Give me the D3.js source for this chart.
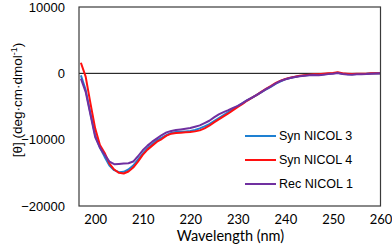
<!DOCTYPE html>
<html>
<head>
<meta charset="utf-8">
<script src="https://cdn.jsdelivr.net/npm/d3@7"></script>
<style>
  body { margin: 0; background: #fff; }
  svg { display: block; }
</style>
</head>
<body>
<div id="chart"></div>
<script>
// wavelengths (nm), 1 nm steps
var wavelengths = d3.range(197, 261);

// mean residue ellipticity
var synNicol3 = [-300, -2500, -6000, -9300, -11200, -12600, -13900, -14600, -14900, -14850,
  -14500, -13900, -13000, -12100, -11300, -10700, -10100, -9700, -9300, -9000,
  -8850, -8800, -8750, -8700, -8550, -8300, -8000, -7650, -7200, -6750,
  -6300, -5850, -5400, -4950, -4500, -4050, -3650, -3250, -2850, -2400,
  -2000, -1550, -1200, -900, -700, -550, -420, -330, -260, -200,
  -220, -120, -60, 0, 80, -50, -120, -150, -100, -100,
  -80, -30, 0, -20];
var synNicol4 = [1600, -500, -4500, -8300, -10800, -12000, -13600, -14500, -15000, -15100,
  -14800, -14200, -13300, -12300, -11500, -10900, -10300, -9900, -9400, -9100,
  -9000, -8950, -8900, -8850, -8750, -8600, -8300, -7900, -7400, -6950,
  -6500, -6050, -5550, -5050, -4600, -4100, -3650, -3250, -2750, -2300,
  -1900, -1450, -1100, -850, -650, -500, -350, -280, -200, -120,
  -150, -50, 0, 50, 150, 0, -50, -100, -80, -60,
  -50, 0, 30, 0];
var recNicol1 = [-800, -2800, -6200, -9600, -11200, -12300, -13300, -13700, -13650, -13600,
  -13550, -13300, -12500, -11600, -10900, -10300, -9800, -9300, -8900, -8700,
  -8550, -8450, -8350, -8250, -8050, -7850, -7500, -7150, -6650, -6200,
  -5850, -5550, -5200, -4900, -4500, -4050, -3650, -3250, -2800, -2350,
  -1950, -1500, -1150, -880, -700, -560, -450, -380, -300, -250,
  -300, -200, -120, -50, 50, -100, -180, -200, -150, -120,
  -100, -60, -20, 0];

var seriesNames = ["Syn NICOL 3", "Syn NICOL 4", "Rec NICOL 1"];
var seriesColors = ["#1e80d2", "#ff1010", "#7030a0"];
var xTicks = [200, 210, 220, 230, 240, 250, 260];
var yTicks = [-20000, -10000, 0, 10000];

var W = 392, H = 249;
var margin = {top: 7, right: 11.5, bottom: 43, left: 79};
var width = W - margin.left - margin.right,
    height = H - margin.top - margin.bottom;

var svg = d3.select("#chart").append("svg")
  .attr("width", W).attr("height", H);
var g = svg.append("g")
  .attr("transform", "translate(" + margin.left + "," + margin.top + ")");

var x = d3.scaleLinear().domain([196.6, 260]).range([0, width]);
var y = d3.scaleLinear().domain([-20000, 10000]).range([height, 0]);

// zero line
g.append("line")
  .attr("x1", 0).attr("x2", width)
  .attr("y1", y(0)).attr("y2", y(0))
  .attr("stroke", "#000").attr("stroke-width", 1);

var line = d3.line()
  .x(function (d, i) { return x(wavelengths[i]); })
  .y(function (d) { return y(d); });

var allSeries = [synNicol3, synNicol4, recNicol1];
allSeries.forEach(function (s, i) {
  g.append("path")
    .datum(s)
    .attr("fill", "none")
    .attr("stroke", seriesColors[i])
    .attr("stroke-width", 2)
    .attr("stroke-linejoin", "round")
    .attr("d", line);
});

// frame
g.append("rect")
  .attr("x", 0).attr("y", 0)
  .attr("width", width).attr("height", height)
  .attr("fill", "none")
  .attr("stroke", "#3a3a3a").attr("stroke-width", 1.2);

// axes (labels only)
var xAxis = g.append("g")
  .attr("transform", "translate(0," + height + ")")
  .call(d3.axisBottom(x).tickValues(xTicks).tickSize(0).tickPadding(9));
xAxis.select(".domain").remove();
xAxis.selectAll("text")
  .attr("font-family", "Lato, 'Open Sans', sans-serif")
  .attr("font-size", 13).attr("fill", "#000");

var yAxis = g.append("g")
  .call(d3.axisLeft(y).tickValues(yTicks).tickSize(0).tickPadding(14).tickFormat(d3.format("d")));
yAxis.select(".domain").remove();
yAxis.selectAll("text")
  .attr("font-family", "'Liberation Sans', Arial, sans-serif")
  .attr("font-size", 13).attr("fill", "#000");

// axis titles
svg.append("text")
  .attr("x", 230.5).attr("y", 241)
  .attr("text-anchor", "middle")
  .attr("font-family", "Lato, 'Open Sans', sans-serif")
  .attr("font-size", 14.5)
  .text("Wavelength (nm)");

var yTitle = svg.append("text")
  .attr("transform", "translate(21.5,100) rotate(-90)")
  .attr("text-anchor", "middle")
  .attr("font-family", "'Liberation Sans', Arial, sans-serif")
  .attr("font-size", 13.5);
yTitle.append("tspan").text("[θ] (deg·cm·dmol");
yTitle.append("tspan").attr("font-size", 9).attr("dy", -5).text("-1");
yTitle.append("tspan").attr("dy", 5).text(")");

// legend
var legend = svg.append("g");
seriesNames.forEach(function (name, i) {
  var ly = 136 + i * 24;
  legend.append("line")
    .attr("x1", 245).attr("x2", 276)
    .attr("y1", ly).attr("y2", ly)
    .attr("stroke", seriesColors[i]).attr("stroke-width", 2);
  legend.append("text")
    .attr("x", 279).attr("y", ly)
    .attr("dy", "0.35em")
    .attr("font-family", "'Liberation Sans', Arial, sans-serif")
    .attr("font-size", 12.5)
    .text(name);
});
</script>
</body>
</html>
